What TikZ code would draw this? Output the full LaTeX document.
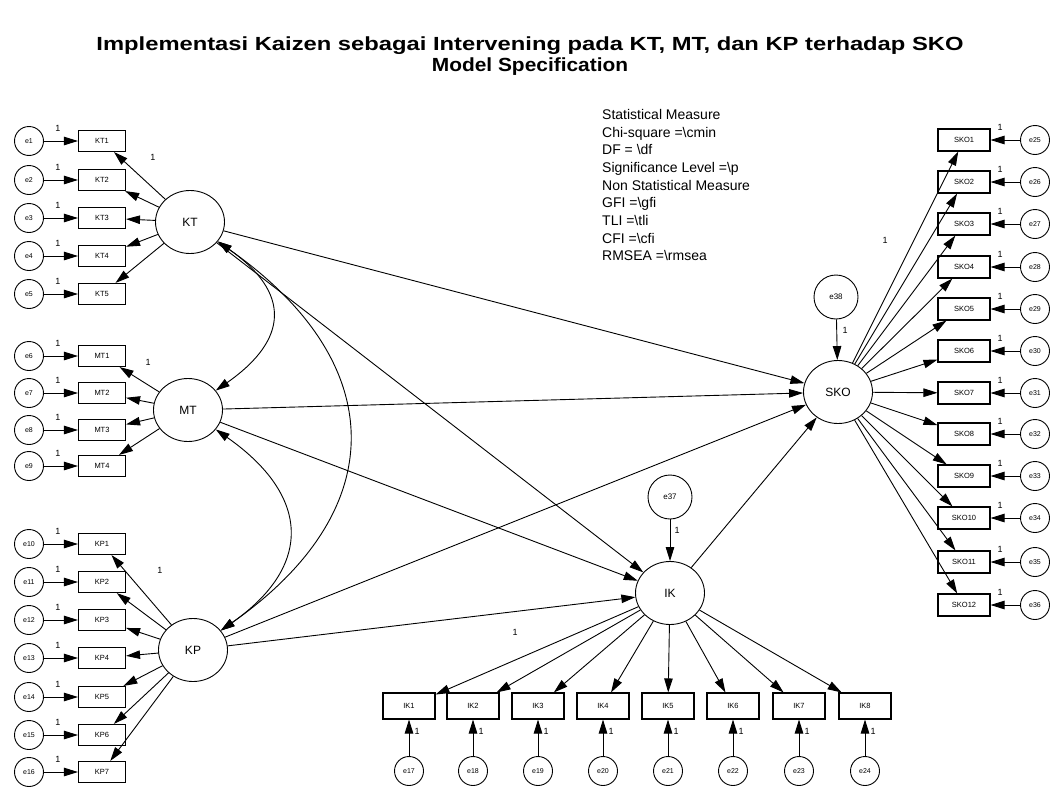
\documentclass[tikz,border=0pt]{standalone}
\usepackage{fontspec}
\setmainfont{Liberation Sans}
\usetikzlibrary{arrows.meta,shapes.geometric}

\begin{document}
\begin{tikzpicture}[x=1pt,y=1pt,
  >={Triangle[length=14pt,width=8.5pt]},
  latent/.style={ellipse,draw,line width=0.9pt,minimum width=69pt,minimum height=63pt,inner sep=0pt,font=\fontsize{12}{14}\selectfont},
  err/.style={circle,draw,line width=0.9pt,minimum size=29pt,inner sep=0pt,font=\fontsize{7}{8}\selectfont},
  dist/.style={circle,draw,line width=0.9pt,minimum size=44pt,inner sep=0pt,font=\fontsize{8}{9}\selectfont},
  obsl/.style={rectangle,draw,line width=1.1pt,minimum width=47pt,minimum height=21pt,inner sep=0pt,font=\fontsize{7.5}{8}\selectfont},
  obsr/.style={obsl,minimum width=52pt,minimum height=22pt},
  obsb/.style={obsl,minimum width=52pt,minimum height=26pt},
  reg/.style={->,line width=0.9pt},
  cov/.style={<->,line width=0.9pt},
  one/.style={font=\fontsize{9}{10}\selectfont,inner sep=0pt},
  heading/.style={font=\bfseries\fontsize{19}{22}\selectfont,inner sep=0pt}
]
\useasboundingbox (0,0) rectangle (1051,-787);
\fill[white] (0,0) rectangle (1051,-787);

% title
\node[heading,xscale=1.25] (title1) at (530,-46)
  {Implementasi Kaizen sebagai Intervening pada KT, MT, dan KP terhadap SKO};
\node[heading,xscale=1.1] (title2) at (530,-67)
  {Model Specification};

% fit statistics
\node[anchor=north west,align=left,inner sep=0pt,font=\fontsize{14}{17.7}\selectfont] (stats) at (602,-109)
  {Statistical Measure\\
   Chi-square =\textbackslash cmin\\
   DF = \textbackslash df\\
   Significance Level =\textbackslash p\\
   Non Statistical Measure\\
   GFI =\textbackslash gfi\\
   TLI =\textbackslash tli\\
   CFI =\textbackslash cfi\\
   RMSEA =\textbackslash rmsea};

% latent variables
\node[latent] (KT) at (190,-222) {KT};
\node[latent] (MT) at (188,-410) {MT};
\node[latent] (KP) at (193,-650) {KP};
\node[latent] (SKO) at (838,-392) {SKO};
\node[latent] (IK) at (670,-593) {IK};
\node[dist] (e37) at (670,-497) {e37};
\node[dist] (e38) at (836,-297) {e38};

% KT indicators
\foreach \i/\y in {1/141,2/180,3/218,4/256,5/294} {
  \node[obsl] (KT\i) at (102,-\y) {KT\i};
  \node[err] (e\i) at (29,-\y) {e\i};
  \draw[reg] (e\i) -- (KT\i);
  \node[one] at (58,-\y+13) {1};
  \draw[reg] (KT) -- (KT\i);
}
% MT indicators
\foreach \i/\e/\y in {1/6/356,2/7/393,3/8/430,4/9/466} {
  \node[obsl] (MT\i) at (102,-\y) {MT\i};
  \node[err] (e\e) at (29,-\y) {e\e};
  \draw[reg] (e\e) -- (MT\i);
  \node[one] at (58,-\y+13) {1};
  \draw[reg] (MT) -- (MT\i);
}
% KP indicators
\foreach \i/\e/\y in {1/10/544,2/11/582,3/12/620,4/13/658,5/14/697,6/15/735,7/16/772} {
  \node[obsl] (KP\i) at (102,-\y) {KP\i};
  \node[err] (e\e) at (29,-\y) {e\e};
  \draw[reg] (e\e) -- (KP\i);
  \node[one] at (58,-\y+13) {1};
  \draw[reg] (KP) -- (KP\i);
}
% SKO indicators
\foreach \i/\y in {1/140,2/182,3/224,4/267,5/309,6/351,7/393,8/434,9/476,10/518,11/562,12/605} {
  \pgfmathtruncatemacro\e{24+\i}
  \node[obsr] (SKO\i) at (964,-\y) {SKO\i};
  \node[err] (e\e) at (1035,-\y) {e\e};
  \draw[reg] (e\e) -- (SKO\i);
  \node[one] at (1000,-\y+13) {1};
  \draw[reg] (SKO) -- (SKO\i);
}
% IK indicators
\foreach \i/\x in {1/409,2/473,3/538,4/603,5/668,6/733,7/799,8/865} {
  \pgfmathtruncatemacro\e{16+\i}
  \node[obsb] (IK\i) at (\x,-706) {IK\i};
  \node[err] (e\e) at (\x,-771) {e\e};
  \draw[reg] (e\e) -- (IK\i);
  \node[one] at (\x+8,-731) {1};
  \draw[reg] (IK) -- (IK\i);
}

% fixed loadings
\node[one] at (153,-157) {1};
\node[one] at (148,-362) {1};
\node[one] at (160,-570) {1};
\node[one] at (885,-240) {1};
\node[one] at (515,-632) {1};
\node[one] at (677,-530) {1};
\node[one] at (845,-330) {1};

% structural paths
\draw[reg] (KT) -- (SKO);
\draw[reg] (KT) -- (IK);
\draw[reg] (MT) -- (SKO);
\draw[reg] (MT) -- (IK);
\draw[reg] (KP) -- (SKO);
\draw[reg] (KP) -- (IK);
\draw[reg] (IK) -- (SKO);
\draw[reg] (e37) -- (IK);
\draw[reg] (e38) -- (SKO);

% covariances
\draw[cov] (KT) to[out=-35,in=35,looseness=1.53] (MT);
\draw[cov] (MT) to[out=-35,in=35,looseness=1.45] (KP);
\draw[cov] (KT) to[out=-35,in=35,looseness=1.38] (KP);
\end{tikzpicture}
\end{document}
